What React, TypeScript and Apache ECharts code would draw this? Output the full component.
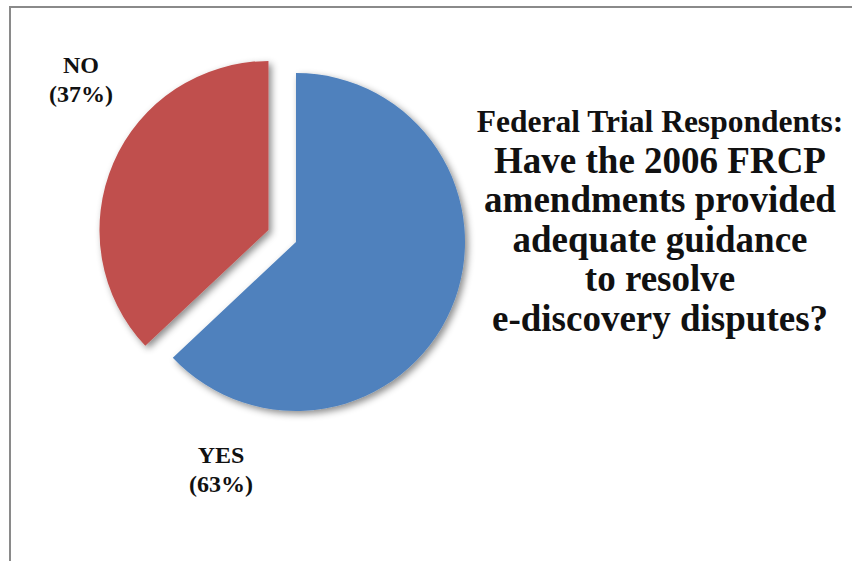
import React, { useEffect, useRef } from "react";
import * as echarts from "echarts";

const categories = ["YES", "NO"];
const shares = [63, 37];
const sliceColors = ["#4F81BD", "#C0504D"];
const subtitleLine = "Federal Trial Respondents:";
const titleLines = [
  "Have the 2006 FRCP",
  "amendments provided",
  "adequate guidance",
  "to resolve",
  "e-discovery disputes?",
];

const FONT = "Liberation Serif";

export default function App() {
  const ref = useRef<HTMLDivElement>(null);
  useEffect(() => {
    if (!ref.current) return;
    const chart = echarts.init(ref.current, undefined, { renderer: "svg" });
    const labelText = (i: number) => `${categories[i]}\n(${shares[i]}%)`;
    const graphics: any[] = [
      { type: "line", shape: { x1: 10, y1: 6, x2: 10, y2: 561 }, style: { stroke: "#8a8a8a", lineWidth: 2 } },
      { type: "line", shape: { x1: 9, y1: 7, x2: 852, y2: 7 }, style: { stroke: "#8a8a8a", lineWidth: 2 } },
      {
        type: "text", x: 81, y: 50,
        style: { text: labelText(1), fontFamily: FONT, fontWeight: "bold", fontSize: 24, fill: "#111", align: "center", verticalAlign: "top", lineHeight: 29 },
      },
      {
        type: "text", x: 221, y: 440,
        style: { text: labelText(0), fontFamily: FONT, fontWeight: "bold", fontSize: 24, fill: "#111", align: "center", verticalAlign: "top", lineHeight: 29 },
      },
      {
        type: "text", x: 660, y: 121,
        style: { text: subtitleLine, fontFamily: FONT, fontWeight: "bold", fontSize: 31.5, fill: "#111", align: "center", verticalAlign: "middle" },
      },
    ];
    titleLines.forEach((t, i) => {
      graphics.push({
        type: "text", x: 660, y: 160 + i * 39.5,
        style: { text: t, fontFamily: FONT, fontWeight: "bold", fontSize: 37, fill: "#111", align: "center", verticalAlign: "middle" },
      });
    });
    chart.setOption({
      animation: false,
      series: [
        {
          type: "pie",
          center: [296, 242],
          radius: 169,
          startAngle: 90,
          clockwise: true,
          selectedMode: "single",
          selectedOffset: 30,
          label: { show: false },
          labelLine: { show: false },
          emphasis: { disabled: true },
          itemStyle: {
            shadowBlur: 7,
            shadowOffsetX: 3,
            shadowOffsetY: 3,
            shadowColor: "rgba(0,0,0,0.45)",
          },
          data: categories.map((c, i) => ({
            name: c,
            value: shares[i],
            selected: i === 1,
            itemStyle: { color: sliceColors[i] },
          })),
        },
      ],
      graphic: graphics,
    });
    return () => chart.dispose();
  }, []);
  return <div ref={ref} style={{ position: "fixed", left: 0, top: 0, width: 852, height: 561, background: "#fff" }} />;
}
